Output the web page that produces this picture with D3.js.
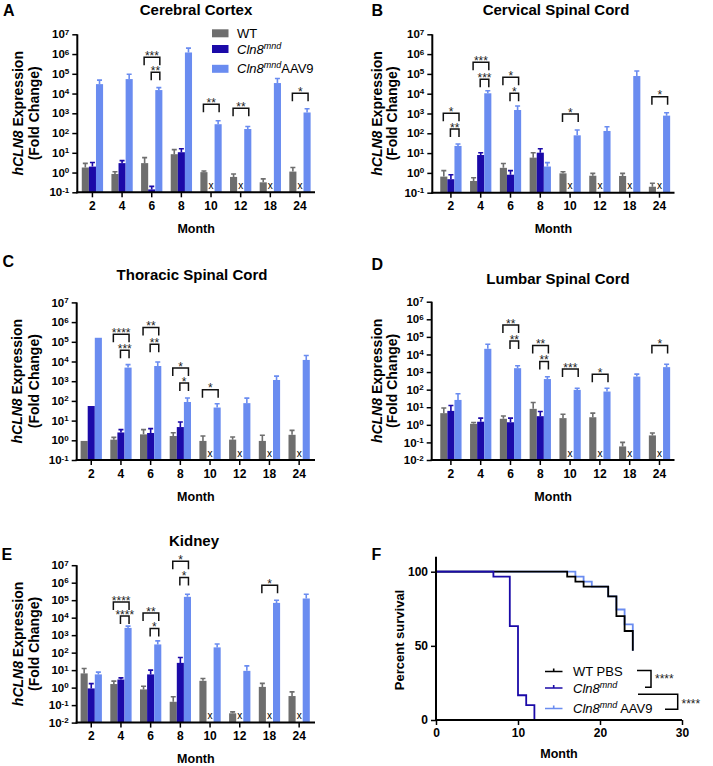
<!DOCTYPE html>
<html><head><meta charset="utf-8">
<script src="https://cdn.jsdelivr.net/npm/d3@7"></script>
<style>body{margin:0;background:#fff}svg{display:block}text{font-family:Arial,"Liberation Sans",Helvetica,sans-serif}</style>
</head><body><svg id="c" width="713" height="766"></svg>
<script>
// ---------------- DATA ----------------
const months = ["2","4","6","8","10","12","18","24"];
const groups = ["WT","Cln8mnd","Cln8mnd AAV9"];

// Cerebral Cortex (bar value, top of error bar)
const cortexWT     = [1.8, 0.85, 3.0, 8.5, 1.05, 0.6, 0.32, 1.12];
const cortexWTHi   = [2.9, 1.1, 5.7, 14.5, 1.2, 0.85, 0.48, 1.8];
const cortexMND    = [2.0, 3.0, 0.14, 10.7, null, null, null, null];
const cortexMNDHi  = [3.2, 4.0, 0.2, 16, null, null, null, null];
const cortexAAV    = [3.0e4, 5.4e4, 1.5e4, 1.2e6, 280, 160, 3.4e4, 1.1e3];
const cortexAAVHi  = [4.8e4, 9.5e4, 2.0e4, 2.0e6, 420, 215, 5.8e4, 1.7e3];
const cortexSig    = [["6","wt",5.84,"***"],["6","mnd",5.08,"**"],["10","wt",3.46,"**"],["12","wt",3.26,"**"],["24","wt",4.02,"*"]];

// Cervical Spinal Cord
const cervWT    = [0.65, 0.39, 1.8, 5.9, 0.95, 0.72, 0.7, 0.2];
const cervWTHi  = [1.3, 0.57, 3.0, 10.5, 1.15, 0.95, 0.95, 0.3];
const cervMND   = [0.48, 8, 0.81, 10.5, null, null, null, null];
const cervMNDHi = [0.8, 10.5, 1.3, 16.6, null, null, null, null];
const cervAAV   = [23, 1.05e4, 1.5e3, 2.1, 79, 131, 7.8e4, 780];
const cervAAVHi = [29, 1.4e4, 2.4e3, 3.3, 147, 215, 1.4e5, 1.1e3];
const cervSig   = [["2","wt",3.01,"*"],["2","mnd",2.22,"**"],["4","wt",5.59,"***"],["4","mnd",4.73,"***"],["6","wt",4.83,"*"],["6","mnd",4.02,"*"],["10","wt",2.97,"*"],["24","wt",3.85,"*"]];

// Thoracic Spinal Cord
const thorWT    = [0.93, 1.08, 2.0, 1.65, 0.93, 1.08, 0.93, 1.9];
const thorWTHi  = [null, 1.4, 3.5, 2.4, 1.65, 1.47, 1.8, 3.2];
const thorMND   = [55, 2.5, 2.35, 4.7, null, null, null, null];
const thorMNDHi = [null, 3.5, 3.9, 8.5, null, null, null, null];
const thorAAV   = [1.6e5, 4.9e3, 5.9e3, 88, 46, 77, 1.15e3, 1.2e4];
const thorAAVHi = [null, 6.9e3, 9.4e3, 140, 72, 138, 1.8e3, 2.0e4];
const thorSig   = [["4","wt",5.38,"****"],["4","mnd",4.57,"***"],["6","wt",5.72,"**"],["6","mnd",4.88,"**"],["8","wt",3.67,"*"],["8","mnd",2.91,"*"],["10","wt",2.57,"*"]];

// Lumbar Spinal Cord
const lumbWT    = [4.6, 1.14, 2.2, 8.1, 2.4, 2.7, 0.059, 0.25];
const lumbWTHi  = [9, 1.35, 3.2, 18.6, 4.0, 4.6, 0.1, 0.34];
const lumbMND   = [6.2, 1.5, 1.4, 3.1, null, null, null, null];
const lumbMNDHi = [12.5, 2.4, 2.4, 5.7, null, null, null, null];
const lumbAAV   = [26, 2.1e4, 1.66e3, 400, 97, 78, 550, 1.9e3];
const lumbAAVHi = [58, 3.8e4, 2.3e3, 540, 120, 120, 760, 2.8e3];
const lumbSig   = [["6","wt",5.68,"**"],["6","mnd",4.77,"**"],["8","wt",4.51,"**"],["8","mnd",3.6,"**"],["10","wt",3.18,"***"],["12","wt",2.88,"*"],["24","wt",4.51,"*"]];

// Kidney
const kidWT    = [6.5, 1.6, 0.79, 0.155, 2.45, 0.034, 1.1, 0.33];
const kidWTHi  = [12.5, 2.35, 1.2, 0.3, 3.35, 0.041, 1.74, 0.57];
const kidMND   = [0.9, 2.9, 5.7, 26, null, null, null, null];
const kidMNDHi = [1.7, 3.6, 10, 53, null, null, null, null];
const kidAAV   = [5.7, 2.6e3, 295, 1.55e5, 200, 9.1, 7e4, 1.25e5];
const kidAAVHi = [7.7, 3.3e3, 470, 2.2e5, 310, 17.6, 1e5, 2.2e5];
const kidSig   = [["4","wt",4.9,"****"],["4","mnd",4.09,"****"],["6","wt",4.27,"**"],["6","mnd",3.38,"*"],["8","wt",7.23,"*"],["8","mnd",6.3,"*"],["18","wt",5.86,"*"]];

// Survival (month, percent)
const survWT_t  = [0, 16, 17, 18, 21, 22, 23, 24];
const survWT_s  = [100, 96.7, 93.3, 90, 83.3, 70, 60, 46.7];
const survMND_t = [0, 7, 9, 10, 11, 12];
const survMND_s = [100, 96.7, 63.3, 16.7, 10, 0];
const survAAV_t = [0, 17, 18, 19, 21, 22, 23, 24];
const survAAV_s = [100, 96.7, 93.3, 90, 83.3, 74.5, 64.5, 46.7];
const survXTicks = [0, 10, 20, 30];
const survYTicks = [0, 50, 100];

// ---------------- DRAW ----------------
const C_WT = "#6e6e6e", C_MND = "#1b0aa8", C_AAV = "#6a8cf0";
const svg = d3.select("#c");
const FONT = 'Arial,"Liberation Sans",Helvetica,sans-serif';

function addLetter(t, x, y) {
  svg.append("text").attr("x", x).attr("y", y).attr("font-size", 16).attr("font-weight", "bold").text(t);
}

function yLabel(x1, x2, cy) {
  const t1 = svg.append("text").attr("transform", `translate(${x1},${cy}) rotate(-90)`)
    .attr("text-anchor", "middle").attr("dominant-baseline", "central")
    .attr("font-size", 14).attr("font-weight", "bold");
  t1.append("tspan").attr("font-style", "italic").text("hCLN8");
  t1.append("tspan").text(" Expression");
  svg.append("text").attr("transform", `translate(${x2},${cy}) rotate(-90)`)
    .attr("text-anchor", "middle").attr("dominant-baseline", "central")
    .attr("font-size", 14).attr("font-weight", "bold").text("(Fold Change)");
}

function barPanel(p) {
  const g = svg.append("g");
  const x = d3.scaleBand().domain(months).range([p.x0, p.x1]);
  const y = d3.scaleLog().domain([Math.pow(10, p.minExp), 1e7]).range([p.yb, p.yt]);
  const bw = 7.1;
  const off = {wt: -bw, mnd: 0, aav: bw};
  const cx = (m, k) => x(m) + x.bandwidth() / 2 + off[k];
  const series = [
    {k: "wt", v: p.wt, hi: p.wtHi, c: C_WT},
    {k: "mnd", v: p.mnd, hi: p.mndHi, c: C_MND},
    {k: "aav", v: p.aav, hi: p.aavHi, c: C_AAV}
  ];
  series.forEach(s => {
    const data = months.map((m, i) => ({m, v: s.v[i], hi: s.hi[i]})).filter(d => d.v != null);
    g.selectAll(null).data(data).join("rect")
      .attr("x", d => cx(d.m, s.k) - bw / 2).attr("width", bw)
      .attr("y", d => y(d.v)).attr("height", d => p.yb - y(d.v))
      .attr("fill", s.c);
    const eb = data.filter(d => d.hi != null);
    g.selectAll(null).data(eb).join("path")
      .attr("d", d => `M${cx(d.m, s.k)},${y(d.v)}V${y(d.hi)}M${cx(d.m, s.k) - 2.5},${y(d.hi)}H${cx(d.m, s.k) + 2.5}`)
      .attr("stroke", s.c).attr("stroke-width", 1.6).attr("fill", "none");
  });
  // x marks for missing mnd
  const miss = months.filter((m, i) => p.mnd[i] == null);
  g.selectAll(null).data(miss).join("text")
    .attr("x", m => cx(m, "mnd")).attr("y", p.yb - 3.5)
    .attr("text-anchor", "middle").attr("font-size", 10).text("x");
  // significance brackets
  p.sig.forEach(([m, from, lev, lab]) => {
    const x1 = cx(m, from) - 0.5, x2 = cx(m, "aav") + 1;
    const yt = y(Math.pow(10, lev));
    g.append("path").attr("d", `M${x1},${yt + 8}V${yt}H${x2}V${yt + 8}`)
      .attr("stroke", "#111").attr("stroke-width", 1.5).attr("fill", "none");
    g.append("text").attr("x", (x1 + x2) / 2).attr("y", yt + 2.8)
      .attr("text-anchor", "middle").attr("font-size", 12).attr("fill", "#222").text(lab);
  });
  // y axis
  const exps = d3.range(p.minExp, 8);
  const ya = g.append("g").attr("transform", `translate(${p.ax},0)`)
    .call(d3.axisLeft(y).tickValues(exps.map(e => Math.pow(10, e))).tickSize(5).tickSizeOuter(0).tickPadding(3));
  ya.attr("font-family", FONT);
  ya.select(".domain").attr("stroke-width", 2).attr("d", `M0,${p.yb + 1}V${p.yt}`);
  ya.selectAll(".tick line").attr("stroke-width", 1.5);
  ya.selectAll(".tick text").each(function(d) {
    const t = d3.select(this);
    t.text(null).attr("font-size", 11.5).attr("font-weight", "bold").attr("fill", "#000");
    t.append("tspan").text("10");
    t.append("tspan").attr("dy", "-0.45em").attr("font-size", 8).text(String(Math.round(Math.log10(d))).replace("-", "-"));
  });
  // x axis
  const xa = g.append("g").attr("transform", `translate(0,${p.yb})`)
    .call(d3.axisBottom(x).tickSize(5).tickSizeOuter(0).tickPadding(4));
  xa.attr("font-family", FONT);
  xa.select(".domain").remove();
  xa.append("line").attr("x1", p.ax - 1).attr("x2", p.xe).attr("stroke", "#000").attr("stroke-width", 2);
  xa.selectAll(".tick line").attr("stroke-width", 1.5);
  xa.selectAll(".tick text").attr("font-size", 12).attr("font-weight", "bold").attr("fill", "#000");
  // month label
  svg.append("text").attr("x", (p.ax + p.xe) / 2).attr("y", p.yb + 40.5)
    .attr("text-anchor", "middle").attr("font-size", 12.5).attr("font-weight", "bold").text("Month");
  // title
  svg.append("text").attr("x", p.tx).attr("y", p.ty).attr("text-anchor", "middle")
    .attr("font-size", 15).attr("font-weight", "bold").text(p.title);
  addLetter(p.letter, p.lx, p.ly);
  yLabel(p.yl1, p.yl2, (p.yb + p.yt) / 2);
}

barPanel({letter: "A", lx: 3, ly: 16, title: "Cerebral Cortex", tx: 196, ty: 14.5,
  wt: cortexWT, wtHi: cortexWTHi, mnd: cortexMND, mndHi: cortexMNDHi, aav: cortexAAV, aavHi: cortexAAVHi, sig: cortexSig,
  minExp: -1, x0: 77.6, x1: 314.8, ax: 77.3, xe: 315, yt: 34.3, yb: 192.3, yl1: 18, yl2: 33.5});
barPanel({letter: "B", lx: 371.5, ly: 16, title: "Cervical Spinal Cord", tx: 556, ty: 14.5,
  wt: cervWT, wtHi: cervWTHi, mnd: cervMND, mndHi: cervMNDHi, aav: cervAAV, aavHi: cervAAVHi, sig: cervSig,
  minExp: -1, x0: 436, x1: 674.4, ax: 432.3, xe: 674.5, yt: 34.3, yb: 192.7, yl1: 377, yl2: 392});
barPanel({letter: "C", lx: 2.5, ly: 266.5, title: "Thoracic Spinal Cord", tx: 192, ty: 280,
  wt: thorWT, wtHi: thorWTHi, mnd: thorMND, mndHi: thorMNDHi, aav: thorAAV, aavHi: thorAAVHi, sig: thorSig,
  minExp: -1, x0: 76.4, x1: 314, ax: 76.7, xe: 315, yt: 302.4, yb: 460, yl1: 17, yl2: 33.5});
barPanel({letter: "D", lx: 371.5, ly: 270, title: "Lumbar Spinal Cord", tx: 558, ty: 284,
  wt: lumbWT, wtHi: lumbWTHi, mnd: lumbMND, mndHi: lumbMNDHi, aav: lumbAAV, aavHi: lumbAAVHi, sig: lumbSig,
  minExp: -2, x0: 436, x1: 674.4, ax: 431.7, xe: 674.5, yt: 301.7, yb: 460, yl1: 377, yl2: 392});
barPanel({letter: "E", lx: 1.5, ly: 560, title: "Kidney", tx: 194, ty: 546,
  wt: kidWT, wtHi: kidWTHi, mnd: kidMND, mndHi: kidMNDHi, aav: kidAAV, aavHi: kidAAVHi, sig: kidSig,
  minExp: -2, x0: 76.4, x1: 314, ax: 76.7, xe: 315, yt: 565.2, yb: 722.6, yl1: 18, yl2: 34});

// Legend (panel A)
const legA = [{c: C_WT, y: 33.3}, {c: C_MND, y: 49}, {c: C_AAV, y: 68.8}];
legA.forEach((l, i) => {
  svg.append("rect").attr("x", 212).attr("y", l.y - 4).attr("width", 16.5).attr("height", 8).attr("fill", l.c);
  const t = svg.append("text").attr("x", 237).attr("y", l.y + 4.6).attr("font-size", 13);
  if (i === 0) t.text("WT");
  else {
    t.append("tspan").attr("font-style", "italic").text("Cln8");
    t.append("tspan").attr("font-style", "italic").attr("font-size", 9).attr("dy", -5).text("mnd");
    if (i === 2) t.append("tspan").attr("dy", 5).text("AAV9");
  }
});

// ---------------- Panel F ----------------
(function() {
  const xs = d3.scaleLinear().domain([0, 30]).range([436, 682]);
  const ys = d3.scaleLinear().domain([0, 100]).range([720, 571.7]);
  const g = svg.append("g");
  const line = d3.line().x(d => xs(d[0])).y(d => ys(d[1])).curve(d3.curveStepAfter);
  const curves = [
    {t: survAAV_t, s: survAAV_s, c: C_AAV},
    {t: survWT_t, s: survWT_s, c: "#000"},
    {t: survMND_t, s: survMND_s, c: C_MND}
  ];
  curves.forEach(cv => {
    g.append("path").datum(cv.t.map((t, i) => [t, cv.s[i]]))
      .attr("d", line).attr("fill", "none").attr("stroke", cv.c).attr("stroke-width", 1.8);
  });
  const ya = g.append("g").attr("transform", `translate(${xs(0)},0)`)
    .call(d3.axisLeft(ys).tickValues(survYTicks).tickSize(5).tickSizeOuter(0).tickPadding(3));
  ya.attr("font-family", FONT);
  ya.select(".domain").attr("stroke-width", 2).attr("d", `M0,${ys(0) + 1}V556.7`);
  ya.selectAll(".tick line").attr("stroke-width", 1.5);
  ya.selectAll(".tick text").attr("font-size", 12).attr("font-weight", "bold").attr("fill", "#000");
  const xa = g.append("g").attr("transform", `translate(0,${ys(0)})`)
    .call(d3.axisBottom(xs).tickValues(survXTicks).tickSize(5).tickSizeOuter(0).tickPadding(3));
  xa.attr("font-family", FONT);
  xa.select(".domain").attr("stroke-width", 2).attr("d", `M${xs(0) - 1},0H${xs(30)}`);
  xa.selectAll(".tick line").attr("stroke-width", 1.5);
  xa.selectAll(".tick text").attr("font-size", 12).attr("font-weight", "bold").attr("fill", "#000");
  svg.append("text").attr("x", (xs(0) + xs(30)) / 2).attr("y", 758).attr("text-anchor", "middle")
    .attr("font-size", 12.5).attr("font-weight", "bold").text("Month");
  svg.append("text").attr("transform", `translate(399,640) rotate(-90)`).attr("text-anchor", "middle")
    .attr("dominant-baseline", "central").attr("font-size", 13).attr("font-weight", "bold").text("Percent survival");
  addLetter("F", 371.5, 560);
  // legend
  const leg = [{c: "#000", y: 671.5}, {c: C_MND, y: 688}, {c: C_AAV, y: 708.5}];
  leg.forEach((l, i) => {
    svg.append("path").attr("d", `M545,${l.y}H562.5M553.7,${l.y - 3}V${l.y}`).attr("stroke", l.c).attr("stroke-width", 1.6).attr("fill", "none");
    const t = svg.append("text").attr("x", 573).attr("y", l.y + 4.6).attr("font-size", 13);
    if (i === 0) t.text("WT PBS");
    else {
      t.append("tspan").attr("font-style", "italic").text("Cln8");
      t.append("tspan").attr("font-style", "italic").attr("font-size", 9).attr("dy", -5).text("mnd");
      if (i === 2) t.append("tspan").attr("dy", 5).text(" AAV9");
    }
  });
  svg.append("path").attr("d", "M637,670.5H651V687.3H645").attr("stroke", "#000").attr("stroke-width", 1.5).attr("fill", "none");
  svg.append("text").attr("x", 655).attr("y", 683).attr("font-size", 12).attr("fill", "#222").text("****");
  svg.append("path").attr("d", "M638,694.3H677.7V709.3H665").attr("stroke", "#000").attr("stroke-width", 1.5).attr("fill", "none");
  svg.append("text").attr("x", 681.5).attr("y", 708).attr("font-size", 12).attr("fill", "#222").text("****");
})();
</script></body></html>
